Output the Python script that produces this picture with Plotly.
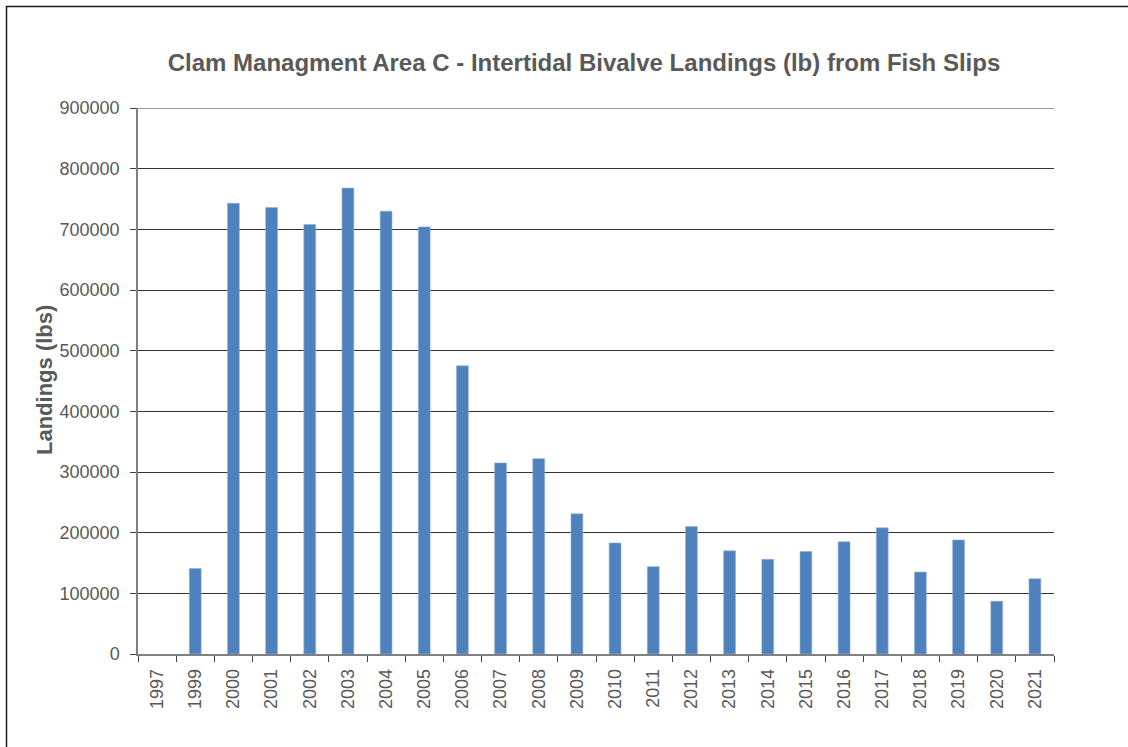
import plotly.graph_objects as go

# Intertidal bivalve landings (lb) by year, Clam Management Area C
years = ["1997", "1999", "2000", "2001", "2002", "2003", "2004", "2005",
         "2006", "2007", "2008", "2009", "2010", "2011", "2012", "2013",
         "2014", "2015", "2016", "2017", "2018", "2019", "2020", "2021"]
landings = [None, 141000, 743000, 736000, 708000, 768000, 730000, 704000,
            475000, 315000, 322000, 231000, 183000, 144000, 210000, 170000,
            156000, 169000, 185000, 208000, 135000, 188000, 87000, 124000]
y_ticks = [0, 100000, 200000, 300000, 400000, 500000, 600000, 700000, 800000, 900000]

W, H = 1128, 747
L, R, T, B = 138, 74, 108, 93
plot_w = W - L - R
plot_h = H - T - B

TEXT = "#595959"
GRID = "#333333"
FONT = "Liberation Sans, Arial, sans-serif"

fig = go.Figure(
    go.Bar(
        x=years,
        y=landings,
        marker=dict(color="#4f81bd", line=dict(color="#8fb0d8", width=0.6)),
    )
)


def px_x(px):
    return (px - L) / plot_w


def px_y(py):
    return (H - B - py) / plot_h


fig.update_layout(
    width=W,
    height=H,
    margin=dict(l=L, r=R, t=T, b=B, autoexpand=False),
    paper_bgcolor="white",
    plot_bgcolor="white",
    bargap=0.69,
    showlegend=False,
    font=dict(family=FONT, color=TEXT, size=18),
    title=dict(
        text="Clam Managment Area C - Intertidal Bivalve Landings (lb) from Fish Slips",
        font=dict(family=FONT, size=24, color=TEXT, weight="bold"),
        x=584 / W,
        xref="container",
        xanchor="center",
        y=1 - 63 / H,
        yref="container",
        yanchor="middle",
    ),
    xaxis=dict(
        type="category",
        range=[-0.5, len(years) - 0.5],
        tickson="boundaries",
        ticks="outside",
        ticklen=6,
        tickwidth=1,
        tickcolor="#404040",
        tickangle=-90,
        ticklabelstandoff=6,
        showline=True,
        linecolor="#808080",
        linewidth=1.5,
        showgrid=False,
        tickfont=dict(family=FONT, size=18, color=TEXT),
    ),
    yaxis=dict(
        range=[0, 900000],
        tickvals=y_ticks,
        ticktext=[str(v) for v in y_ticks],
        ticks="outside",
        ticklen=6,
        tickwidth=1,
        tickcolor="#404040",
        ticklabelstandoff=7,
        showline=True,
        linecolor="#808080",
        linewidth=1.5,
        showgrid=True,
        gridcolor=GRID,
        gridwidth=1,
        zeroline=False,
        tickfont=dict(family=FONT, size=18, color=TEXT),
    ),
    annotations=[
        dict(
            text="Landings (lbs)",
            xref="paper",
            yref="paper",
            x=px_x(44),
            y=px_y(380),
            xanchor="center",
            yanchor="middle",
            textangle=-90,
            showarrow=False,
            font=dict(family=FONT, size=22, color=TEXT, weight="bold"),
        )
    ],
    shapes=[
        # top gridline at the upper end of the value axis
        dict(
            type="line",
            xref="paper",
            yref="y",
            x0=0,
            x1=1,
            y0=y_ticks[-1],
            y1=y_ticks[-1],
            line=dict(color=GRID, width=1.2),
        ),
        # outer frame around the chart area
        dict(
            type="rect",
            xref="paper",
            yref="paper",
            x0=px_x(6.5),
            y0=px_y(760),
            x1=px_x(1140),
            y1=px_y(6.5),
            line=dict(color="#1a1a1a", width=1.5),
            fillcolor="rgba(0,0,0,0)",
            layer="above",
        ),
    ],
)

fig.write_html("out.html")
